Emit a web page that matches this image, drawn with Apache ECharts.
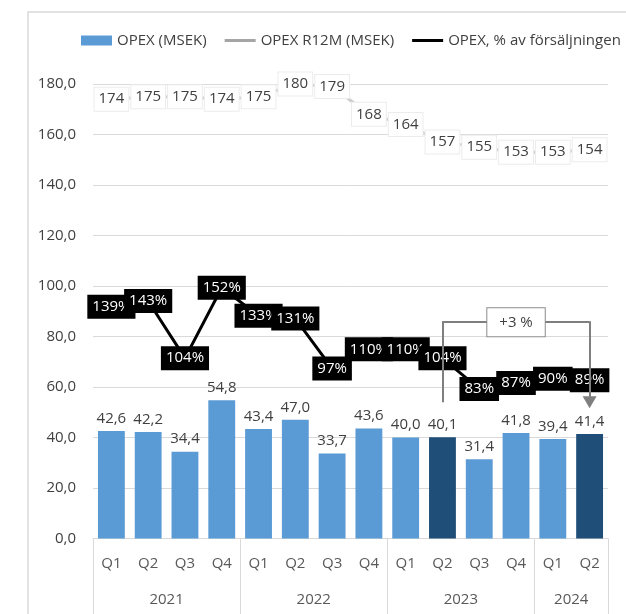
<!DOCTYPE html>
<html>
<head>
<meta charset="utf-8">
<script src="https://cdn.jsdelivr.net/npm/echarts@6/dist/echarts.min.js"></script>
<style>
  html, body { margin: 0; padding: 0; background: #fff; }
  #chart { width: 626px; height: 614px; }
</style>
</head>
<body>
<div id="chart"></div>
<script>
// data
const years = ['2021', '2022', '2023', '2024'];
const quartersPerYear = [4, 4, 4, 2];
const quarters = ['Q1', 'Q2', 'Q3', 'Q4', 'Q1', 'Q2', 'Q3', 'Q4', 'Q1', 'Q2', 'Q3', 'Q4', 'Q1', 'Q2'];
const opex = [42.6, 42.2, 34.4, 54.8, 43.4, 47.0, 33.7, 43.6, 40.0, 40.1, 31.4, 41.8, 39.4, 41.4];
const opexR12M = [174, 175, 175, 174, 175, 180, 179, 168, 164, 157, 155, 153, 153, 154];
const opexPct = [139, 143, 104, 152, 133, 131, 97, 110, 110, 104, 83, 87, 90, 89];
const highlighted = [9, 13];   // Q2 2023 och Q2 2024
const changeLabel = '+3 %';

// kategorier: unika nycklar, visas som Qn
const categories = [];
let yearBounds = [0];
let yearMids = [];
let k = 0;
years.forEach((y, i) => {
  yearMids.push(k + quartersPerYear[i] / 2);
  for (let j = 0; j < quartersPerYear[i]; j++) {
    categories.push(y + ' ' + quarters[k]);
    k++;
  }
  yearBounds.push(k);
});

const font = '"Open Sans", sans-serif';
const txt = '#404040';
const grid = '#D9D9D9';
const comma = v => v.toFixed(1).replace('.', ',');
// tunn linje som legend-ikon (osynliga hörnpunkter håller storleken)
const lineIcon = 'path://M0,3.6h31v2.8h-31z M0,0h0.05v0.05h-0.05z M30.95,9.95h0.05v0.05h-0.05z';

const chart = echarts.init(document.getElementById('chart'));

chart.setOption({
  backgroundColor: '#fff',
  animation: false,
  textStyle: {fontFamily: font},
  graphic: [
    {
      type: 'rect',
      shape: {x: 28, y: 12, width: 700, height: 700},
      style: {fill: 'none', stroke: '#D9D9D9', lineWidth: 1.5},
      silent: true
    }
  ],
  legend: {
    left: 76,
    top: 28,
    width: 1000,
    itemWidth: 31,
    itemHeight: 10,
    itemGap: 18,
    textStyle: {fontSize: 15, color: txt, fontFamily: font},
    data: [
      {name: 'OPEX (MSEK)', icon: 'rect'},
      {name: 'OPEX R12M (MSEK)', icon: lineIcon},
      {name: 'OPEX, % av försäljningen', icon: lineIcon}
    ]
  },
  grid: {left: 93, right: 18, top: 84, bottom: 75.5},
  xAxis: [
    {
      type: 'category',
      data: categories,
      axisLine: {onZero: false, lineStyle: {color: grid, width: 1}},
      axisTick: {show: false},
      axisLabel: {
        color: '#595959', fontSize: 15, margin: 18, fontFamily: font,
        formatter: v => v.split(' ')[1]
      }
    },
    {
      type: 'value',
      min: 0,
      max: categories.length,
      position: 'bottom',
      axisLine: {show: false, onZero: false},
      splitLine: {show: false},
      axisTick: {
        show: true,
        customValues: yearBounds,
        length: 80,
        lineStyle: {color: grid, width: 1}
      },
      axisLabel: {
        customValues: yearMids,
        color: '#595959', fontSize: 15, margin: 54, fontFamily: font,
        formatter: v => years[yearMids.indexOf(v)] || ''
      }
    }
  ],
  yAxis: [
    {
      type: 'value',
      min: 0,
      max: 180,
      interval: 20,
      axisLine: {show: false},
      axisTick: {show: false},
      splitLine: {lineStyle: {color: grid, width: 1}},
      axisLabel: {color: txt, fontSize: 15, margin: 17, fontFamily: font, formatter: comma}
    },
    {
      type: 'value',
      min: -19,
      max: 291,
      show: false,
      splitLine: {show: false}
    }
  ],
  series: [
    {
      name: 'OPEX (MSEK)',
      type: 'bar',
      barCategoryGap: '27%',
      itemStyle: {color: '#5B9BD5'},
      data: opex.map((v, i) => highlighted.includes(i)
        ? {value: v, itemStyle: {color: '#1F4E79'}}
        : v),
      label: {
        show: true, position: 'top', distance: 5,
        color: txt, fontSize: 15, fontFamily: font,
        formatter: p => comma(p.value)
      }
    },
    {
      name: 'OPEX R12M (MSEK)',
      type: 'line',
      symbol: 'circle',
      symbolSize: 2,
      showSymbol: true,
      lineStyle: {color: '#CDCDCD', width: 3},
      itemStyle: {color: '#A5A5A5'},
      data: opexR12M,
      label: {
        show: true, position: 'inside',
        color: txt, fontSize: 15, fontFamily: font,
        backgroundColor: '#fff', borderColor: '#ECECEC', borderWidth: 1,
        padding: [5, 4, 3, 4]
      }
    },
    {
      name: 'OPEX, % av försäljningen',
      type: 'line',
      yAxisIndex: 1,
      symbol: 'circle',
      symbolSize: 2,
      showSymbol: true,
      lineStyle: {color: '#000', width: 3},
      itemStyle: {color: '#000'},
      data: opexPct,
      label: {
        show: true, position: 'inside',
        color: '#fff', fontSize: 15, fontFamily: font,
        backgroundColor: '#000',
        padding: [5, 5, 4, 5],
        formatter: p => p.value + '%'
      },
      z: 3
    },
    {
      // hakparentesen med förändringen Q2 mot Q2
      type: 'line',
      data: [],
      z: 10,
      markLine: {
        silent: true,
        animation: false,
        lineStyle: {color: '#7F7F7F', width: 2, type: 'solid'},
        symbol: ['none', 'none'],
        label: {show: false},
        data: [
          [{coord: [highlighted[0], 54]}, {coord: [highlighted[0], 86]}],
          [
            {
              coord: [highlighted[0], 86],
              label: {
                show: true, position: 'middle', formatter: changeLabel,
                color: txt, fontSize: 15, fontFamily: font,
                backgroundColor: '#fff', borderColor: '#8C8C8C', borderWidth: 1,
                padding: [7, 12, 6, 12], distance: -15
              }
            },
            {coord: [highlighted[1], 86]}
          ],
          [
            {coord: [highlighted[1], 86], symbol: 'none'},
            {coord: [highlighted[1], 54], symbol: 'triangle', symbolSize: [14, 12], symbolRotate: 180}
          ]
        ]
      }
    }
  ]
});
</script>
</body>
</html>
